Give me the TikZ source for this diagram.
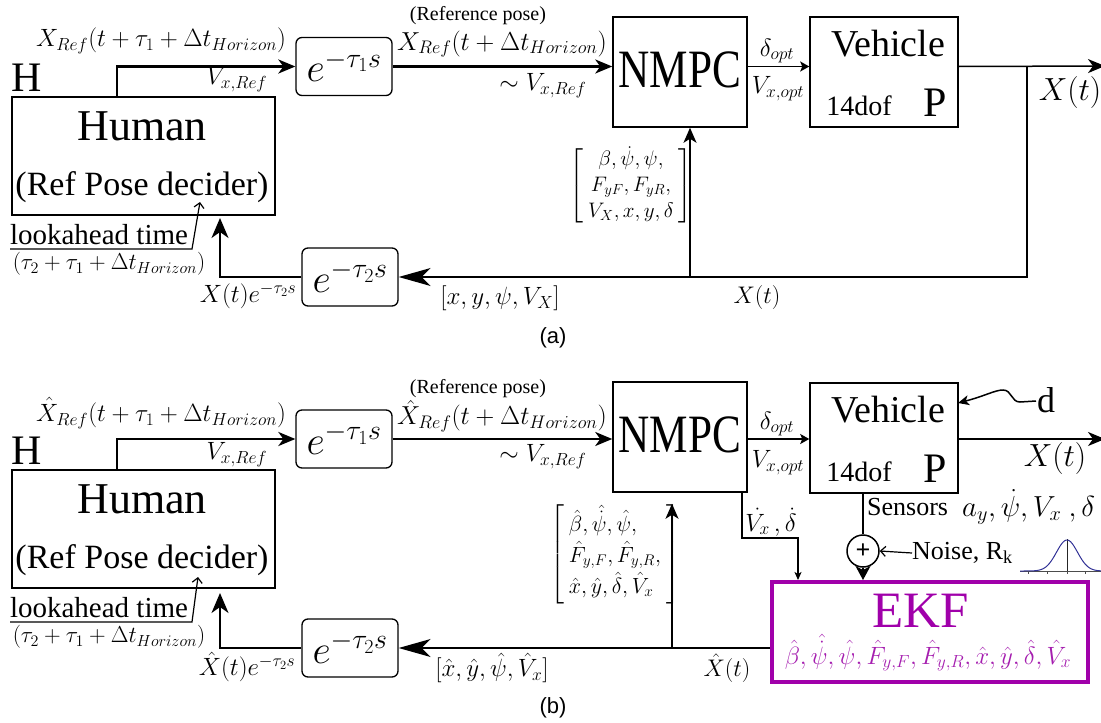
\RequirePackage{fix-cm}
\documentclass[tikz,border=0pt]{standalone}
\usepackage{amsmath}
\usepackage[no-math]{fontspec}
\setmainfont{Liberation Serif}
\newfontfamily\arialf{Liberation Sans}
\usepackage{graphicx}
\usetikzlibrary{arrows.meta,calc}
\definecolor{ekfp}{RGB}{160,0,170}
\definecolor{ekft}{RGB}{165,30,175}
\definecolor{gaus}{RGB}{50,50,150}
\newcommand{\fs}[1]{\fontsize{#1}{#1}\selectfont}
\tikzset{
 bigtip/.tip={Stealth[length=17pt,width=14pt,inset=5pt]},
 longtip/.tip={Stealth[length=32pt,width=18pt,inset=9pt]},
 uptip/.tip={Stealth[length=20pt,width=17pt,inset=6pt]},
 midtip/.tip={Stealth[length=15pt,width=13pt,inset=4pt]},
 smalltip/.tip={Stealth[length=9pt,width=10pt,inset=2pt]},
 tinytip/.tip={Stealth[length=8pt,width=7pt,inset=2pt]},
 opentip/.tip={Straight Barb[length=5pt,width=10pt]},
 bx/.style={draw, line width=1.5pt, inner sep=0pt},
 hbx/.style={draw, line width=2.5pt, inner sep=0pt},
 rbx/.style={draw, line width=1.3pt, rounded corners=6pt, inner sep=0pt},
 thk/.style={line width=2.5pt},
 thn/.style={line width=1.5pt},
 lbl/.style={inner sep=0pt},
}
\begin{document}
\begin{tikzpicture}[x=1pt,y=-1pt]
\useasboundingbox (0,0) rectangle (1101,723);
\clip (0,0) rectangle (1101,723);
% ================= panel (a) =================
\node[lbl,font=\fs{42}] (Ha) at (27,78) {H};
\node[hbx, minimum width=263pt, minimum height=118pt] (huma) at (143.5,156) {};
\node[lbl,font=\fs{44}] (humta) at (142,126) {Human};
\node[lbl,font=\fs{34}] (deca) at (142,187) {(Ref Pose decider)};
\node[rbx, minimum width=96pt, minimum height=58pt, font=\fs{40}] (e1a) at (344,66.5) {$e^{-\tau_1 s}$};
\node[bx, minimum width=134pt, minimum height=110pt] (nmpca) at (680,72) {};
\node[lbl,font=\fs{54}] (nmpcta) at (680,70) {\scalebox{0.8}[1]{NMPC}};
\node[bx, minimum width=148pt, minimum height=110pt] (veha) at (884,72) {};
\node[lbl,font=\fs{38}] (vehta) at (888,44) {Vehicle};
\node[lbl,font=\fs{28}] (dofa) at (859,106) {14dof};
\node[lbl,font=\fs{42}] (Pa) at (935,103) {P};
\node[rbx, minimum width=96pt, minimum height=58pt, font=\fs{40}] (e2a) at (350,277) {$e^{-\tau_2 s}$};

\node[lbl,font=\fs{25}] (l1a) at (161,41) {$X_{Ref}(t+\tau_1+\Delta t_{Horizon})$};
\node[lbl,font=\fs{25}] (l2a) at (237,80) {$V_{x,Ref}$};
\node[lbl,font=\fs{20}] (l3a) at (478,16) {(Reference pose)};
\node[lbl,font=\fs{26}] (l4a) at (502,44) {$X_{Ref}(t+\Delta t_{Horizon})$};
\node[lbl,font=\fs{25}] (l5a) at (543,86) {$\sim V_{x,Ref}$};
\node[lbl,font=\fs{25}] (l6a) at (777,51) {$\delta_{opt}$};
\node[lbl,font=\fs{25}] (l7a) at (778,89) {$V_{x,opt}$};
\node[lbl,font=\fs{32}] (l8a) at (1070,92) {$X(t)$};
\node[lbl,font=\fontsize{21}{26}\selectfont] (l9a) at (631,186) {$\left[\begin{array}{c}\beta,\dot{\psi},\psi,\\ F_{yF},F_{yR},\\ V_X,x,y,\delta\end{array}\right]$};
\node[lbl,font=\fs{25}] (l10a) at (500,298) {$[x,y,\psi,V_X]$};
\node[lbl,font=\fs{24}] (l11a) at (757,297) {$X(t)$};
\node[lbl,font=\fs{25}] (l12a) at (248,296) {$X(t)e^{-\tau_2 s}$};
\node[lbl,font=\fs{29}] (l13a) at (99,235) {lookahead time};
\node[lbl,font=\fs{23}] (l14a) at (109,264) {$(\tau_2+\tau_1+\Delta t_{Horizon})$};
\node[lbl,font=\arialf\fs{22}] (capa) at (553,338) {(a)};

\coordinate (upa) at (117,97);
\coordinate (bra) at (1027,66);
\coordinate (outa) at (1105,66);
\coordinate (fba) at (690,277);
\coordinate (lka) at (10,249);
\coordinate (lkb) at (192,249);
\coordinate (lkt) at (200,202);
\coordinate (hina) at (220,215);

\draw[thk,-{bigtip}] (upa) |- (e1a.west);
\draw[thk,-{bigtip}] (e1a.east) -- (e1a.east -| nmpca.west);
\draw[thn,-{smalltip}] (e1a.east -| nmpca.east) -- (e1a.east -| veha.west);
\draw[thn,-{bigtip}] (e1a.east -| veha.east) -- (outa);
\draw[thn,-{longtip}] (bra) |- (e2a.east);
\draw[thn,-{midtip}] (fba) -- (fba |- nmpca.south);
\draw[thn,-{uptip}, shorten >=3pt] (e2a.west) -| (hina);
\draw[line width=1.2pt,-{opentip}] (lka) -- (lkb) -- (lkt);

% ================= panel (b) =================
\node[lbl,font=\fs{42}] (Hb) at (27,451) {H};
\node[hbx, minimum width=263pt, minimum height=118pt] (humb) at (143.5,529) {};
\node[lbl,font=\fs{44}] (humtb) at (142,499) {Human};
\node[lbl,font=\fs{34}] (decb) at (142,560) {(Ref Pose decider)};
\node[rbx, minimum width=96pt, minimum height=58pt, font=\fs{40}] (e1b) at (344,439) {$e^{-\tau_1 s}$};
\node[bx, minimum width=134pt, minimum height=110pt] (nmpcb) at (680,437) {};
\node[lbl,font=\fs{54}] (nmpctb) at (680,435) {\scalebox{0.8}[1]{NMPC}};
\node[bx, minimum width=148pt, minimum height=110pt] (vehb) at (884,438) {};
\node[lbl,font=\fs{38}] (vehtb) at (888,410) {Vehicle};
\node[lbl,font=\fs{28}] (dofb) at (859,472) {14dof};
\node[lbl,font=\fs{42}] (Pb) at (935,469) {P};
\node[rbx, minimum width=96pt, minimum height=58pt, font=\fs{40}] (e2b) at (350,648) {$e^{-\tau_2 s}$};
\node[draw=ekfp, line width=4pt, minimum width=316pt, minimum height=100pt, inner sep=0pt] (ekf) at (930,632) {};
\node[lbl,font=\fs{51},text=ekfp] (ekft) at (921,611) {EKF};
\node[lbl,font=\fs{25},text=ekft] (ekfs) at (928,653) {$\hat{\beta},\hat{\dot{\psi}},\hat{\psi},\hat{F}_{y,F},\hat{F}_{y,R},\hat{x},\hat{y},\hat{\delta},\hat{V}_x$};
\node[draw, circle, line width=1.5pt, minimum size=32pt, inner sep=0pt, font=\fs{26}\bfseries] (sum) at (863,551) {+};

\node[lbl,font=\fs{25}] (l1b) at (161,413) {$\hat{X}_{Ref}(t+\tau_1+\Delta t_{Horizon})$};
\node[lbl,font=\fs{25}] (l2b) at (237,455) {$V_{x,Ref}$};
\node[lbl,font=\fs{20}] (l3b) at (478,389) {(Reference pose)};
\node[lbl,font=\fs{26}] (l4b) at (502,416) {$\hat{X}_{Ref}(t+\Delta t_{Horizon})$};
\node[lbl,font=\fs{25}] (l5b) at (543,457) {$\sim V_{x,Ref}$};
\node[lbl,font=\fs{25}] (l6b) at (777,424) {$\delta_{opt}$};
\node[lbl,font=\fs{25}] (l7b) at (778,463) {$V_{x,opt}$};
\node[lbl,font=\fs{32}] (l8b) at (1055,458) {$X(t)$};
\node[lbl,font=\fs{36}] (db) at (1046,400) {d};
\node[lbl,font=\fs{26}, anchor=west] (sens) at (867,507) {Sensors};
\node[lbl,font=\fs{29}, anchor=west] (meas) at (962,507) {$a_y,\dot{\psi},V_x\ ,\delta$};
\node[lbl,font=\fs{26}, anchor=west] (noise) at (912,553) {Noise, R\textsubscript{k}};
\node[lbl,font=\fs{25}] (vd) at (771,522) {$\dot{V_x}\,,\dot{\delta}$};
\node[lbl,font=\fontsize{22}{31}\selectfont] (l9b) at (615,554) {$\left[\begin{array}{l}\hat{\beta},\hat{\dot{\psi}},\hat{\psi},\\ \hat{F}_{y,F},\hat{F}_{y,R},\\ \hat{x},\hat{y},\hat{\delta},\hat{V}_x\end{array}\right]$};
\node[lbl,font=\fs{25}] (l10b) at (492,668) {$[\hat{x},\hat{y},\hat{\psi},\hat{V}_x]$};
\node[lbl,font=\fs{24}] (l11b) at (727,668) {$\hat{X}(t)$};
\node[lbl,font=\fs{25}] (l12b) at (247,667) {$\hat{X}(t)e^{-\tau_2 s}$};
\node[lbl,font=\fs{29}] (l13b) at (99,608) {lookahead time};
\node[lbl,font=\fs{23}] (l14b) at (109,637) {$(\tau_2+\tau_1+\Delta t_{Horizon})$};
\node[lbl,font=\arialf\fs{22}] (capb) at (553,708) {(b)};

\coordinate (upb) at (117,470);
\coordinate (outb) at (1105,439);
\coordinate (fbb) at (672,648);
\coordinate (lkc) at (10,622);
\coordinate (lkd) at (192,622);
\coordinate (lke) at (198,577);
\coordinate (hinb) at (220,588);
\coordinate (nsa) at (742,492);
\coordinate (nsb) at (742,538);
\coordinate (nsc) at (798,538);
\coordinate (sensx) at (863,492);
\coordinate (dstart) at (1036,401);
\coordinate (dend) at (958,403);

\draw[thk,-{bigtip}] (upb) |- (e1b.west);
\draw[thk,-{bigtip}] (e1b.east) -- (e1b.east -| nmpcb.west);
\draw[thn,-{smalltip}] (e1b.east -| nmpcb.east) -- (e1b.east -| vehb.west);
\draw[thn,-{bigtip}] (e1b.east -| vehb.east) -- (outb);
\draw[thn,-{longtip}] (e2b.east -| ekf.west) -- (e2b.east);
\draw[thn,-{midtip}, shorten >=11pt] (fbb) -- (fbb |- nmpcb.south);
\draw[thn,-{uptip}, shorten >=5pt] (e2b.west) -| (hinb);
\draw[line width=1.2pt,-{opentip}] (lkc) -- (lkd) -- (lke);
\draw[line width=1.2pt,-{tinytip}] (nsa) -- (nsb) -- (nsc) -- (nsc |- ekf.north);
\draw[thn] (sensx) -- (sum.north);
\draw[thn,-{Stealth[length=14pt,width=15pt,inset=4pt]}] (sum.south) -- (sum.south |- ekf.north);
\draw[line width=1.2pt,-{opentip}] (noise.west) -- (sum.east);
\draw[thn,-{Stealth[length=11pt,width=10pt,inset=3pt]}] (dstart) -- (1020,402) .. controls (1011,402) and (1012,390) .. (1003,390) .. controls (995,390) and (985,396) .. (dend);
% gaussian
\draw[gray!60!black, line width=0.9pt] (1020,571) -- (1101,571);
\foreach \t in {1028,1047,1067,1085} \draw[gray!60!black, line width=0.8pt] (\t,571) -- (\t,574);
\draw[gray!30!black, line width=0.9pt] (1067,539) -- (1067,571);
\draw[gaus, line width=1pt] plot[domain=1020:1101, samples=70] (\x, {571-31*exp(-((\x-1067)/10.5)^2/2)});
\end{tikzpicture}
\end{document}
